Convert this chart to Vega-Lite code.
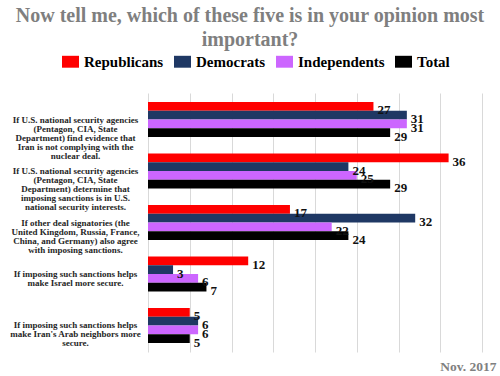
{
  "$schema": "https://vega.github.io/schema/vega-lite/v6.json",
  "width": 334,
  "height": 259,
  "autosize": {"type": "none"},
  "padding": {"left": 148, "top": 93, "right": 18, "bottom": 24},
  "background": "white",
  "config": {"view": {"stroke": null}, "font": "Liberation Serif"},
  "title": {
    "text": ["Now tell me, which of these five is in your opinion most", "important?"],
    "fontSize": 20,
    "fontWeight": "bold",
    "color": "#7f7f7f",
    "font": "Liberation Serif",
    "lineHeight": 24,
    "anchor": "middle",
    "dx": -65,
    "offset": 3
  },
  "data": {
    "values": [
      {"q": "If U.S. national security agencies|(Pentagon, CIA, State|Department) find evidence that|Iran is not complying with the|nuclear deal.", "party": "Republicans", "v": 27},
      {"q": "If U.S. national security agencies|(Pentagon, CIA, State|Department) find evidence that|Iran is not complying with the|nuclear deal.", "party": "Democrats", "v": 31},
      {"q": "If U.S. national security agencies|(Pentagon, CIA, State|Department) find evidence that|Iran is not complying with the|nuclear deal.", "party": "Independents", "v": 31},
      {"q": "If U.S. national security agencies|(Pentagon, CIA, State|Department) find evidence that|Iran is not complying with the|nuclear deal.", "party": "Total", "v": 29},
      {"q": "If U.S. national security agencies|(Pentagon, CIA, State|Department) determine that|imposing sanctions is in U.S.|national security interests.", "party": "Republicans", "v": 36},
      {"q": "If U.S. national security agencies|(Pentagon, CIA, State|Department) determine that|imposing sanctions is in U.S.|national security interests.", "party": "Democrats", "v": 24},
      {"q": "If U.S. national security agencies|(Pentagon, CIA, State|Department) determine that|imposing sanctions is in U.S.|national security interests.", "party": "Independents", "v": 25},
      {"q": "If U.S. national security agencies|(Pentagon, CIA, State|Department) determine that|imposing sanctions is in U.S.|national security interests.", "party": "Total", "v": 29},
      {"q": "If other deal signatories (the|United Kingdom, Russia, France,|China, and Germany) also agree|with imposing sanctions.", "party": "Republicans", "v": 17},
      {"q": "If other deal signatories (the|United Kingdom, Russia, France,|China, and Germany) also agree|with imposing sanctions.", "party": "Democrats", "v": 32},
      {"q": "If other deal signatories (the|United Kingdom, Russia, France,|China, and Germany) also agree|with imposing sanctions.", "party": "Independents", "v": 22},
      {"q": "If other deal signatories (the|United Kingdom, Russia, France,|China, and Germany) also agree|with imposing sanctions.", "party": "Total", "v": 24},
      {"q": "If imposing such sanctions helps|make Israel more secure.", "party": "Republicans", "v": 12},
      {"q": "If imposing such sanctions helps|make Israel more secure.", "party": "Democrats", "v": 3},
      {"q": "If imposing such sanctions helps|make Israel more secure.", "party": "Independents", "v": 6},
      {"q": "If imposing such sanctions helps|make Israel more secure.", "party": "Total", "v": 7},
      {"q": "If imposing such sanctions helps|make Iran's Arab neighbors more|secure.", "party": "Republicans", "v": 5},
      {"q": "If imposing such sanctions helps|make Iran's Arab neighbors more|secure.", "party": "Democrats", "v": 6},
      {"q": "If imposing such sanctions helps|make Iran's Arab neighbors more|secure.", "party": "Independents", "v": 6},
      {"q": "If imposing such sanctions helps|make Iran's Arab neighbors more|secure.", "party": "Total", "v": 5}
    ]
  },
  "encoding": {
    "y": {
      "field": "q",
      "type": "nominal",
      "sort": null,
      "scale": {"paddingInner": 0.32, "paddingOuter": 0.175},
      "axis": {
        "title": null,
        "ticks": false,
        "tickSize": 0,
        "domain": false,
        "labelAlign": "center",
        "labelBaseline": "middle",
        "labelPadding": 73,
        "labelFontSize": 9,
        "labelFontWeight": "bold",
        "labelFont": "Liberation Serif",
        "labelColor": "#262626",
        "labelLineHeight": 9,
        "labelLimit": 250,
        "labelExpr": "split(datum.label, '|')"
      }
    },
    "yOffset": {"field": "party", "type": "nominal", "sort": ["Republicans", "Democrats", "Independents", "Total"]},
    "x": {
      "field": "v",
      "type": "quantitative",
      "scale": {"domain": [0, 40]},
      "axis": {
        "values": [0, 5, 10, 15, 20, 25, 30, 35, 40],
        "grid": true,
        "gridColor": "#d9d9d9",
        "labels": false,
        "ticks": false,
        "domain": false,
        "title": "Nov. 2017",
        "titleColor": "#808080",
        "titleFontSize": 13.5,
        "titleFont": "Liberation Serif",
        "titleFontWeight": "bold",
        "titleX": 348,
        "titleY": 18,
        "titleAlign": "right",
        "titleBaseline": "alphabetic"
      }
    }
  },
  "layer": [
    {
      "mark": {"type": "bar"},
      "encoding": {
        "color": {
          "field": "party",
          "type": "nominal",
          "scale": {
            "domain": ["Republicans", "Democrats", "Independents", "Total"],
            "range": ["#ff0000", "#1f3864", "#cc66ff", "#000000"]
          },
          "legend": {
            "title": null,
            "orient": "none",
            "legendX": -86,
            "legendY": -40,
            "direction": "horizontal",
            "symbolType": "M-1,-0.7H1V0.7H-1Z",
            "symbolSize": 289,
            "symbolStrokeWidth": 0,
            "labelFontSize": 15,
            "labelFontWeight": "bold",
            "labelFont": "Liberation Serif",
            "labelColor": "black",
            "columnPadding": 10,
            "labelOffset": 5
          }
        }
      }
    },
    {
      "mark": {"type": "text", "align": "left", "baseline": "middle", "dx": 4, "dy": 4, "fontSize": 13, "fontWeight": "bold", "font": "Liberation Serif", "color": "#111111"},
      "encoding": {"text": {"field": "v", "type": "quantitative"}}
    }
  ]
}
